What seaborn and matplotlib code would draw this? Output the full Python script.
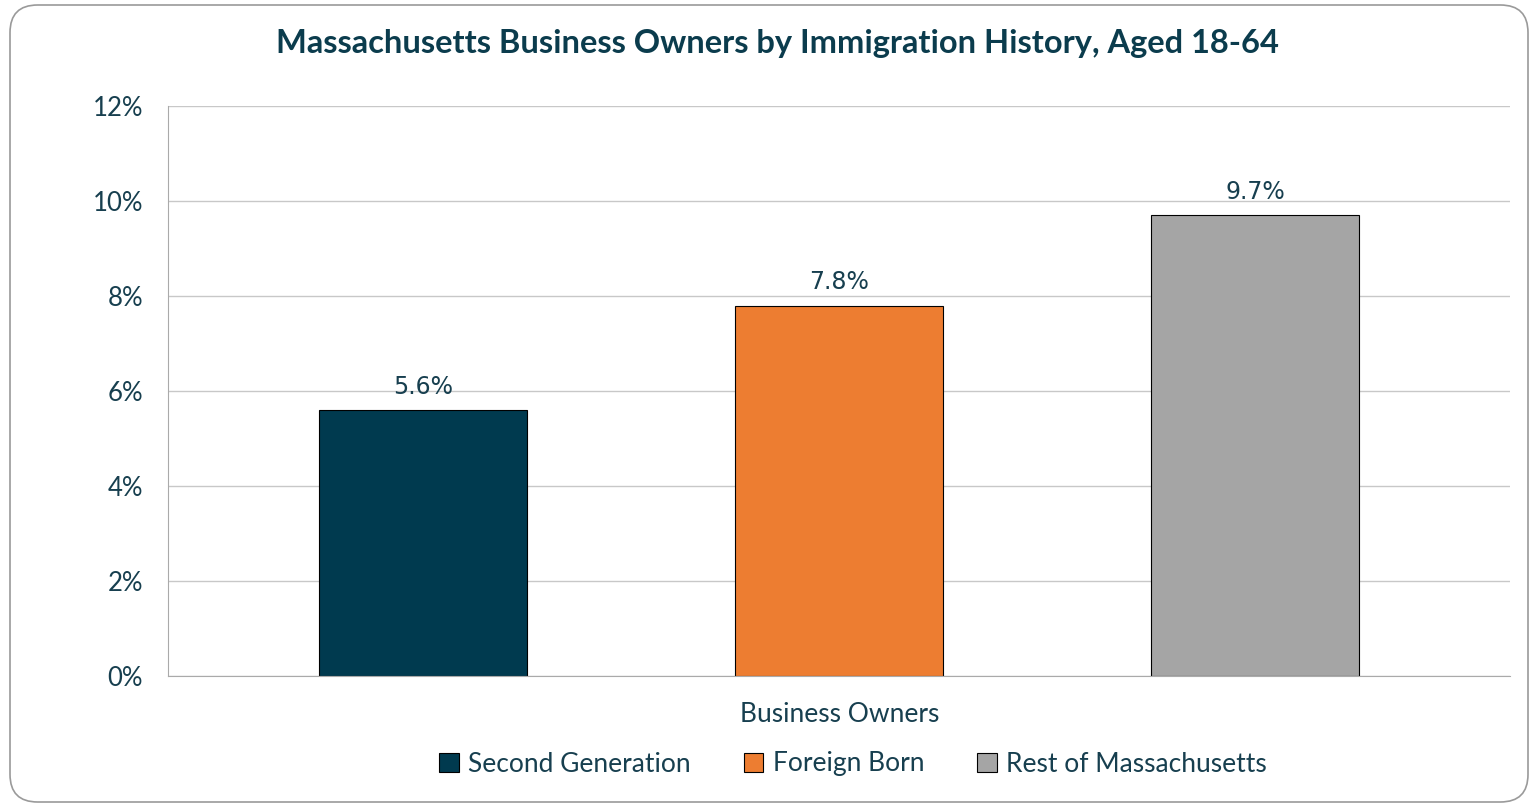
import seaborn as sns
import matplotlib.pyplot as plt
import pandas as pd
from matplotlib.patches import FancyBboxPatch, Patch
from matplotlib.ticker import PercentFormatter

# Data
groups = ['Second Generation', 'Foreign Born', 'Rest of Massachusetts']
shares = [5.6, 7.8, 9.7]
colors = ['#003A4F', '#ED7D31', '#A5A5A5']
title = 'Massachusetts Business Owners by Immigration History, Aged 18-64'
category = 'Business Owners'

df = pd.DataFrame({'Group': groups, 'Share': shares})

sns.set_style("white")
plt.rcParams['font.family'] = ['Lato', 'DejaVu Sans']
text_color = '#173F4F'

fig = plt.figure(figsize=(15.35, 8.06), dpi=100)
ax = fig.add_axes([168 / 1535, 1 - 676 / 806, 1342 / 1535, 570 / 806])

sns.barplot(data=df, x='Group', y='Share', hue='Group', palette=colors,
            saturation=1, width=0.5, edgecolor='black', linewidth=0.8,
            legend=False, ax=ax)

ax.set_ylim(0, 12)
ax.set_xlim(-0.613, 2.613)
ax.set_yticks(range(0, 13, 2))
ax.yaxis.set_major_formatter(PercentFormatter(decimals=0))
ax.grid(axis='y', color='#C8C8C8', linewidth=1)
ax.set_axisbelow(True)
for side in ['top', 'right']:
    ax.spines[side].set_visible(False)
for side in ['left', 'bottom']:
    ax.spines[side].set_color('#AAAAAA')
ax.set_xticks([])
ax.set_xlabel('')
ax.set_ylabel('')
ax.tick_params(axis='y', length=0, labelsize=18.5, labelcolor=text_color, pad=18)

for container in ax.containers:
    ax.bar_label(container, fmt='%.1f%%', padding=8, fontsize=17,
                 color=text_color, family=['DejaVu Sans'])

fig.text(777 / 1535, 1 - 43 / 806, title, ha='center', va='center',
         fontsize=23.5, fontweight='bold', color='#0B3C4D')
fig.text(840 / 1535, 1 - 715 / 806, category, ha='center', va='center',
         fontsize=19, color=text_color)

handles = [Patch(facecolor=c, edgecolor='black', linewidth=0.8) for c in colors]
fig.legend(handles, groups, loc='center', bbox_to_anchor=(853 / 1535, 1 - 764 / 806),
           ncol=3, frameon=False, fontsize=19, labelcolor=text_color,
           handlelength=0.75, handleheight=0.75, handletextpad=0.35, columnspacing=2.0)

border = FancyBboxPatch((10 / 1535, 4 / 806), 1518 / 1535, 797 / 806,
                        boxstyle='round,pad=0,rounding_size=0.018',
                        transform=fig.transFigure, facecolor='none',
                        edgecolor='#9A9A9A', linewidth=1.2, mutation_aspect=1535 / 806)
fig.patches.append(border)

plt.savefig('out.png', dpi=100)
